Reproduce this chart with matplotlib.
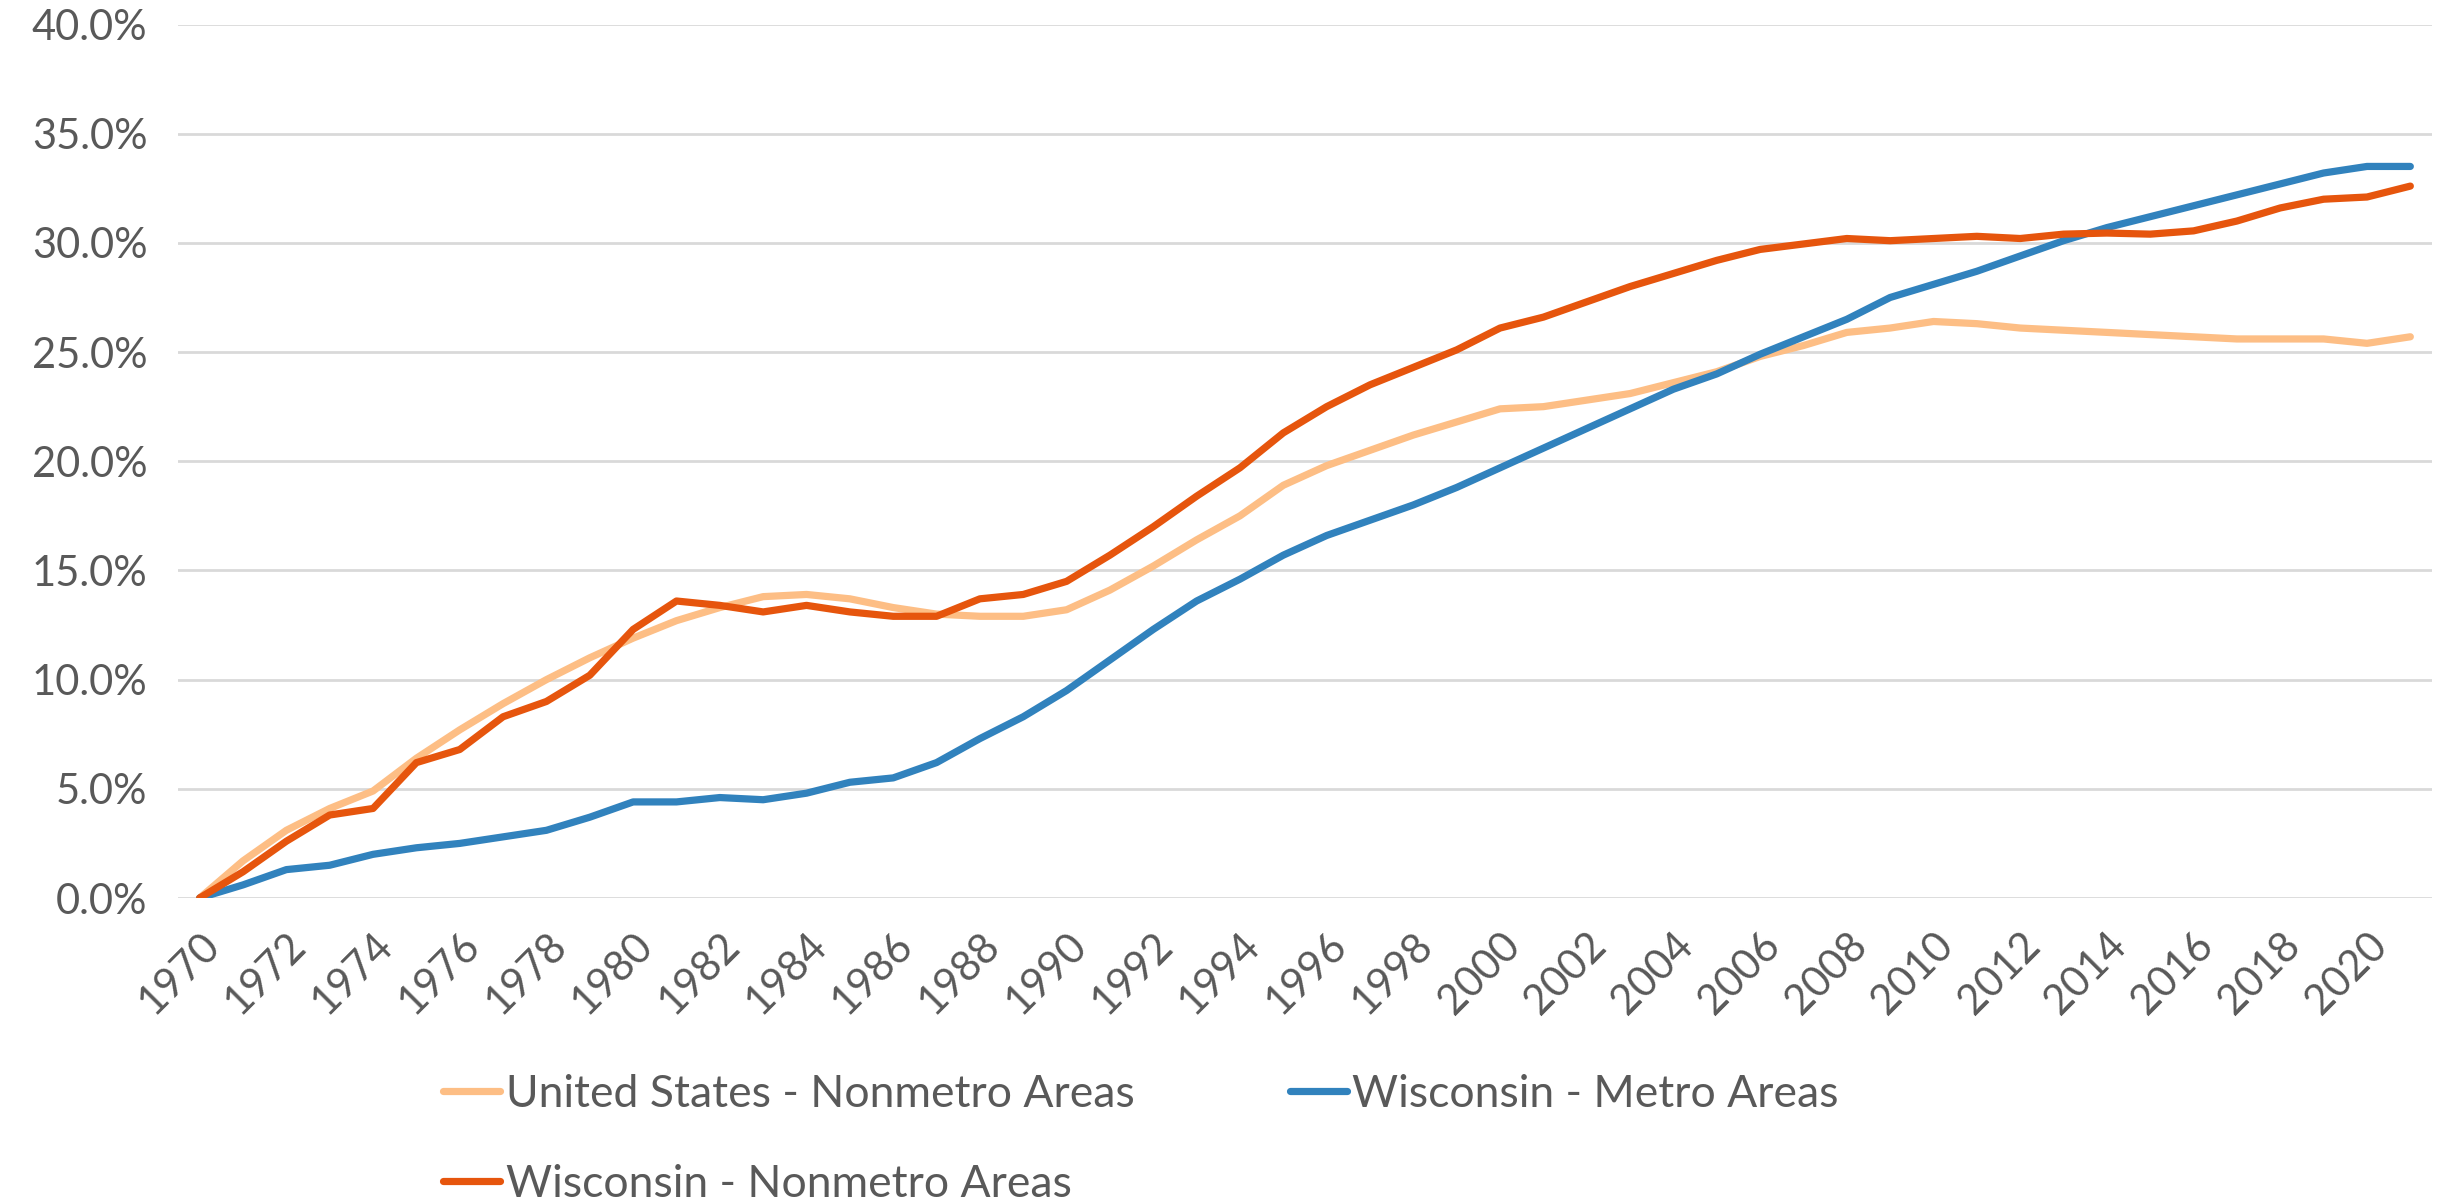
import numpy as np
import matplotlib.pyplot as plt
from matplotlib.ticker import PercentFormatter

# -----------------------------
# Data (cumulative growth since 1970, %)
# -----------------------------
YEARS = list(range(1970, 2022))

US_NONMETRO = [
    0.0, 1.7, 3.1, 4.1, 4.9, 6.4, 7.7, 8.9, 10.0, 11.0,
    11.9, 12.7, 13.3, 13.8, 13.9, 13.7, 13.3, 13.0, 12.9, 12.9,
    13.2, 14.1, 15.2, 16.4, 17.5, 18.9, 19.8, 20.5, 21.2, 21.8,
    22.4, 22.5, 22.8, 23.1, 23.6, 24.1, 24.8, 25.3, 25.9, 26.1,
    26.4, 26.3, 26.1, 26.0, 25.9, 25.8, 25.7, 25.6, 25.6, 25.6,
    25.4, 25.7,
]

WI_METRO = [
    0.0, 0.6, 1.3, 1.5, 2.0, 2.3, 2.5, 2.8, 3.1, 3.7,
    4.4, 4.4, 4.6, 4.5, 4.8, 5.3, 5.5, 6.2, 7.3, 8.3,
    9.5, 10.9, 12.3, 13.6, 14.6, 15.7, 16.6, 17.3, 18.0, 18.8,
    19.7, 20.6, 21.5, 22.4, 23.3, 24.0, 24.9, 25.7, 26.5, 27.5,
    28.1, 28.7, 29.4, 30.1, 30.7, 31.2, 31.7, 32.2, 32.7, 33.2,
    33.5, 33.5,
]

WI_NONMETRO = [
    0.0, 1.2, 2.6, 3.8, 4.1, 6.2, 6.8, 8.3, 9.0, 10.2,
    12.3, 13.6, 13.4, 13.1, 13.4, 13.1, 12.9, 12.9, 13.7, 13.9,
    14.5, 15.7, 17.0, 18.4, 19.7, 21.3, 22.5, 23.5, 24.3, 25.1,
    26.1, 26.6, 27.3, 28.0, 28.6, 29.2, 29.7, 29.95, 30.2, 30.1,
    30.2, 30.3, 30.2, 30.4, 30.45, 30.4, 30.55, 31.0, 31.6, 32.0,
    32.1, 32.6,
]

LABELS = [
    "United States - Nonmetro Areas",
    "Wisconsin - Metro Areas",
    "Wisconsin - Nonmetro Areas",
]
COLORS = ["#FDBE85", "#3182BD", "#E6550D"]

# -----------------------------
# Chart
# -----------------------------
plt.rcParams["font.family"] = ["Lato", "DejaVu Sans"]
TEXT_COLOR = "#595959"

fig = plt.figure(figsize=(24.45, 12.02), dpi=100)
ax = fig.add_axes([178 / 2445, 1 - 898 / 1202, (2432 - 178) / 2445, (898 - 24.5) / 1202])

series = [US_NONMETRO, WI_METRO, WI_NONMETRO]
handles = []
for values, label, color in zip(series, LABELS, COLORS):
    (line,) = ax.plot(YEARS, values, color=color, linewidth=5.2,
                      solid_capstyle="round", solid_joinstyle="round", label=label)
    handles.append(line)

ax.set_xlim(1969.5, 2021.5)
ax.set_ylim(0, 40)
ax.set_yticks(np.arange(0, 40.1, 5))
ax.yaxis.set_major_formatter(PercentFormatter(decimals=1))
ax.set_xticks(YEARS[::2])
ax.set_xticklabels([str(y) for y in YEARS[::2]], rotation=45, ha="right",
                   rotation_mode="anchor")

ax.grid(axis="y", color="#D9D9D9", linewidth=2)
ax.set_axisbelow(True)
for spine in ax.spines.values():
    spine.set_visible(False)
ax.tick_params(axis="both", length=0, labelsize=30, colors=TEXT_COLOR)
ax.tick_params(axis="y", pad=22)
ax.tick_params(axis="x", pad=20)

# Row-major legend order: US / WI metro on first row, WI nonmetro below
order = [0, 2, 1]
leg = fig.legend([handles[i] for i in order], [LABELS[i] for i in order],
                 loc="center", bbox_to_anchor=(0.4667, 0.052), ncol=2,
                 frameon=False, fontsize=32, handlelength=1.28,
                 handletextpad=0.12, columnspacing=3.5, labelspacing=1.1)
for text in leg.get_texts():
    text.set_color(TEXT_COLOR)

plt.savefig("out.png", dpi=100)
plt.close()
